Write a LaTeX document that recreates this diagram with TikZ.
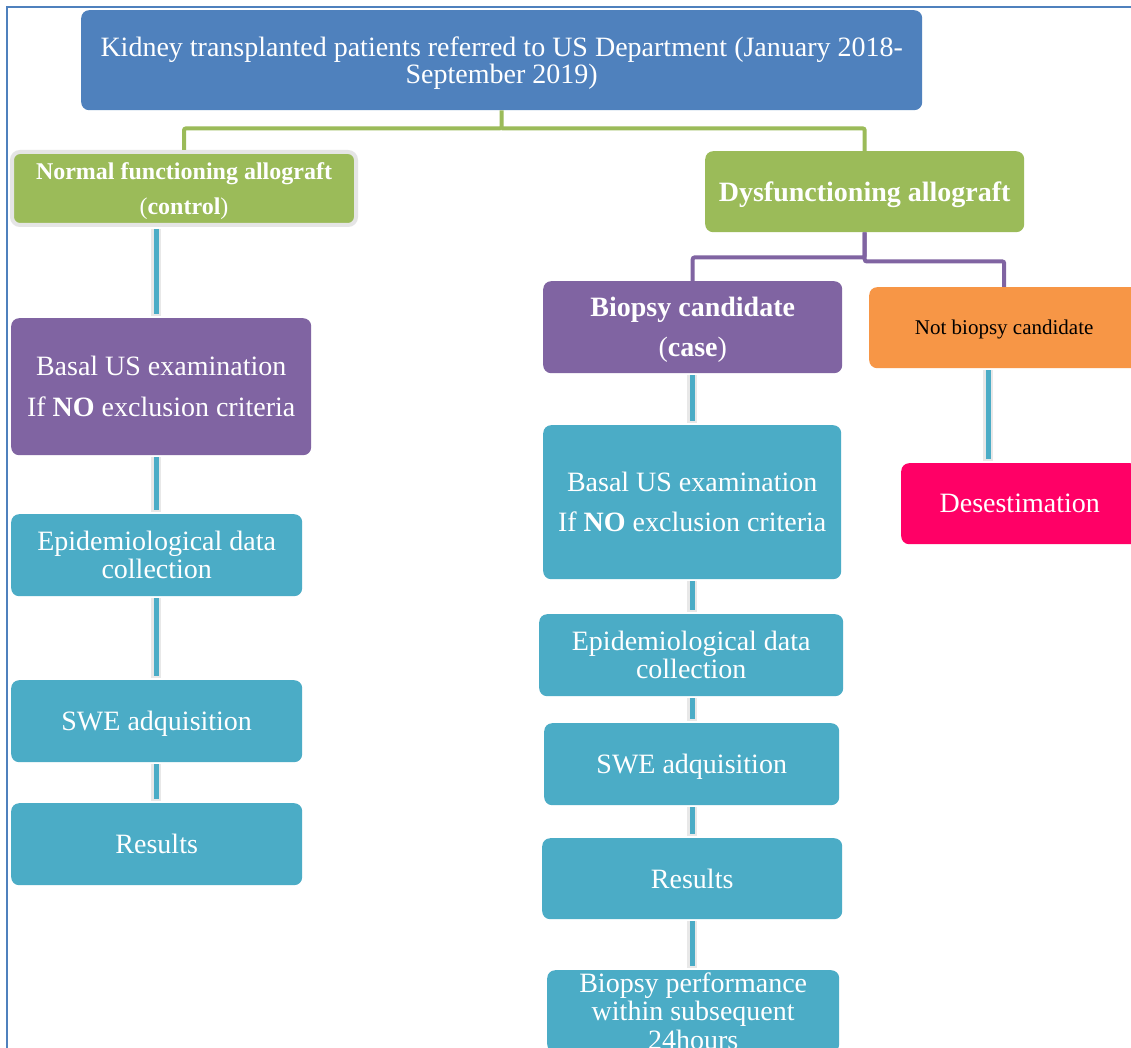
\documentclass[tikz,border=0pt]{standalone}
\usepackage{fontspec}
\setmainfont{Liberation Serif}
\usetikzlibrary{calc}
\definecolor{cblue}{HTML}{4F81BD}
\definecolor{cgreen}{HTML}{9BBB59}
\definecolor{cpurple}{HTML}{8064A2}
\definecolor{cteal}{HTML}{4BACC6}
\definecolor{corange}{HTML}{F79646}
\definecolor{cpink}{HTML}{FF0066}
\newcommand\zdp[1]{\raisebox{0pt}[\height][0pt]{#1}}
\tikzset{
  box/.style={rounded corners=8pt, anchor=north west, align=center, text=white, inner sep=1pt},
  fs/.style 2 args={font=\fontsize{#1}{#2}\selectfont},
  gconn/.style={draw=cgreen, line width=4pt, rounded corners=2pt},
  pconn/.style={draw=cpurple, line width=4pt, rounded corners=2pt},
  conn/.style={draw=cteal, line width=5pt, shorten <=2pt, shorten >=4pt,
    preaction={draw=black!9, line width=10pt, shorten <=2pt, shorten >=2pt}},
}
\begin{document}
\begin{tikzpicture}[x=1pt,y=-1pt]
\useasboundingbox (0,0) rectangle (1131,1048);
\clip (0,0) rectangle (1131,1048);
\fill[white] (0,0) rectangle (1131,1048);
\draw[cblue, line width=1.5pt] (7,1048) -- (7,7) -- (1131,7);

% top
\node[box, fill=cblue, fs={28}{27}, minimum width=841pt, minimum height=100pt] (top) at (81,10)
  {Kidney transplanted patients referred to US Department (January 2018-\\\zdp{September 2019)}};

% level 2
\node[box, fill=cgreen, fs={24}{35}, minimum width=344pt, minimum height=73pt,
  draw=black!10, line width=4pt] (ctl) at (10,150)
  {\textbf{Normal functioning allograft}\\\zdp{(\textbf{control})}};
\node[box, fill=cgreen, fs={28}{28}, minimum width=319pt, minimum height=81pt] (dys) at (705,151)
  {\zdp{\textbf{Dysfunctioning allograft}}};

% level 3 right
\node[box, fill=cpurple, fs={28}{40}, minimum width=299pt, minimum height=92pt] (bio) at (543,281)
  {\textbf{Biopsy candidate}\\\zdp{(\textbf{case})}};
\node[box, fill=corange, text=black, fs={21}{21}, minimum width=270pt, minimum height=81pt] (nbc) at (869,287)
  {\zdp{Not biopsy candidate}};
\node[box, fill=cpink, fs={28}{28}, minimum width=237pt, minimum height=81pt] (des) at (901,463)
  {Desestimation};

% left column
\node[box, fill=cpurple, fs={28}{41}, minimum width=300pt, minimum height=137pt] (lbas) at (11,318)
  {Basal US examination\\If \textbf{NO} exclusion criteria};
\node[box, fill=cteal, fs={28}{28}, minimum width=291pt, minimum height=82pt] (lepi) at (11,514)
  {Epidemiological data\\collection};
\node[box, fill=cteal, fs={28}{28}, minimum width=291pt, minimum height=82pt] (lswe) at (11,680)
  {\zdp{SWE adquisition}};
\node[box, fill=cteal, fs={28}{28}, minimum width=291pt, minimum height=82pt] (lres) at (11,803)
  {Results};

% right column
\node[box, fill=cteal, fs={28}{40}, minimum width=298pt, minimum height=154pt] (rbas) at (543,425)
  {Basal US examination\\If \textbf{NO} exclusion criteria};
\node[box, fill=cteal, fs={28}{28}, minimum width=304pt, minimum height=82pt] (repi) at (539,614)
  {Epidemiological data\\collection};
\node[box, fill=cteal, fs={28}{28}, minimum width=295pt, minimum height=82pt] (rswe) at (544,723)
  {\zdp{SWE adquisition}};
\node[box, fill=cteal, fs={28}{28}, minimum width=300pt, minimum height=81pt] (rres) at (542,838)
  {Results};
\node[box, fill=cteal, fs={28}{28.5}, minimum width=292pt, minimum height=82pt] (rbp) at (547,970)
  {Biopsy performance\\within subsequent\\24hours};

% green tree connector
\coordinate (gj) at ($(top.south)+(0,18)$);
\draw[gconn] (top.south) -- (gj) -| (ctl.north);
\draw[gconn] (gj) -| (dys.north);

% purple tree connector
\coordinate (pjl) at ($(dys.south)+(0,25)$);
\coordinate (pjr) at ($(dys.south)+(0,29)$);
\draw[pconn] (dys.south) -- (pjl) -| (bio.north);
\draw[pconn] (dys.south) -- (pjr) -| (nbc.north);

% column connectors
\coordinate (lx) at (156,0);
\coordinate (rx) at (692,0);
\coordinate (nx) at (988,0);
\draw[conn] (ctl.south -| lx) -- (lbas.north -| lx);
\draw[conn] (lbas.south -| lx) -- (lepi.north -| lx);
\draw[conn] (lepi.south -| lx) -- (lswe.north -| lx);
\draw[conn] (lswe.south -| lx) -- (lres.north -| lx);
\draw[conn] (bio.south -| rx) -- (rbas.north -| rx);
\draw[conn] (rbas.south -| rx) -- (repi.north -| rx);
\draw[conn] (repi.south -| rx) -- (rswe.north -| rx);
\draw[conn] (rswe.south -| rx) -- (rres.north -| rx);
\draw[conn] (rres.south -| rx) -- (rbp.north -| rx);
\draw[conn] (nbc.south -| nx) -- (des.north -| nx);
\end{tikzpicture}
\end{document}
